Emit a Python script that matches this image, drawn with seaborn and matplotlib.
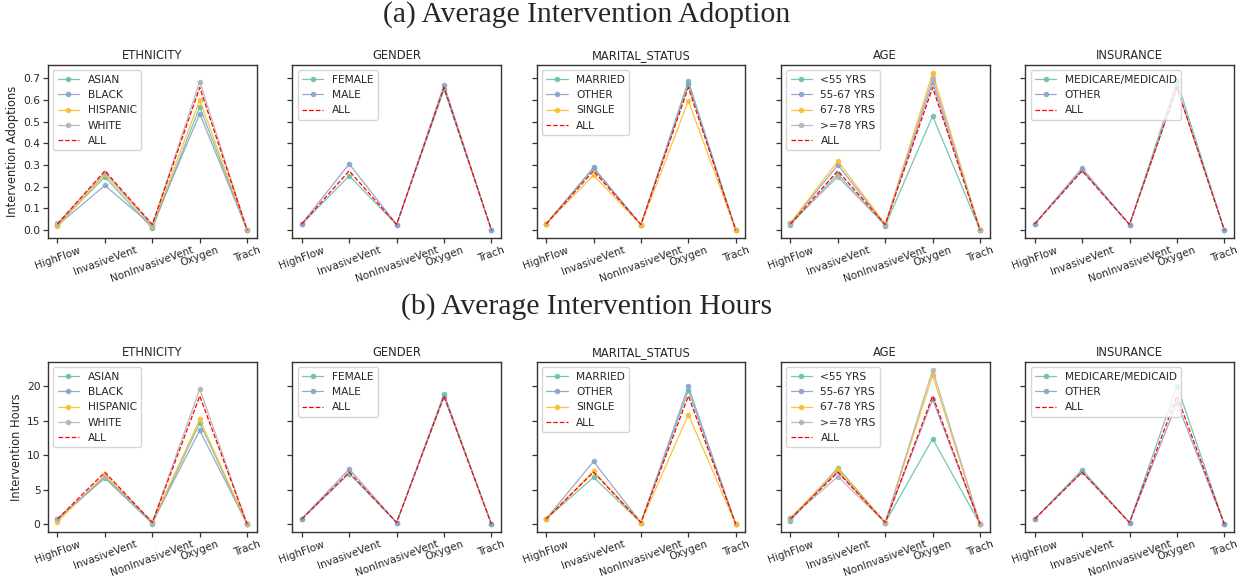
import matplotlib
matplotlib.use("Agg")
import matplotlib.pyplot as plt
import seaborn as sns

interventions = ["HighFlow", "InvasiveVent", "NonInvasiveVent", "Oxygen", "Trach"]
panel_names = ["ETHNICITY", "GENDER", "MARITAL_STATUS", "AGE", "INSURANCE"]

# (a) average intervention adoption
adopt_all = [0.028, 0.273, 0.026, 0.657, 0.0]
adopt_ethnicity = {
    "ASIAN": [0.025, 0.245, 0.008, 0.567, 0.0],
    "BLACK": [0.022, 0.206, 0.020, 0.536, 0.0],
    "HISPANIC": [0.017, 0.258, 0.020, 0.598, 0.0],
    "WHITE": [0.031, 0.265, 0.024, 0.684, 0.0],
}
adopt_gender = {
    "FEMALE": [0.028, 0.250, 0.025, 0.648, 0.0],
    "MALE": [0.029, 0.305, 0.026, 0.668, 0.0],
}
adopt_marital = {
    "MARRIED": [0.029, 0.284, 0.025, 0.688, 0.0],
    "OTHER": [0.029, 0.289, 0.025, 0.672, 0.0],
    "SINGLE": [0.029, 0.253, 0.024, 0.595, 0.0],
}
adopt_age = {
    "<55 YRS": [0.024, 0.258, 0.020, 0.525, 0.0],
    "55-67 YRS": [0.031, 0.300, 0.025, 0.680, 0.0],
    "67-78 YRS": [0.033, 0.318, 0.027, 0.724, 0.0],
    ">=78 YRS": [0.031, 0.245, 0.024, 0.700, 0.0],
}
adopt_insurance = {
    "MEDICARE/MEDICAID": [0.029, 0.277, 0.025, 0.688, 0.0],
    "OTHER": [0.029, 0.286, 0.025, 0.655, 0.0],
}

# (b) average intervention hours
hours_all = [0.75, 7.55, 0.25, 18.6, 0.0]
hours_ethnicity = {
    "ASIAN": [0.70, 6.7, 0.10, 14.7, 0.0],
    "BLACK": [0.80, 6.8, 0.30, 13.6, 0.0],
    "HISPANIC": [0.35, 7.2, 0.30, 15.2, 0.0],
    "WHITE": [0.75, 6.9, 0.30, 19.6, 0.0],
}
hours_gender = {
    "FEMALE": [0.77, 7.35, 0.25, 18.9, 0.0],
    "MALE": [0.80, 8.0, 0.25, 18.5, 0.0],
}
hours_marital = {
    "MARRIED": [0.77, 6.8, 0.25, 19.4, 0.0],
    "OTHER": [0.77, 9.1, 0.25, 20.0, 0.0],
    "SINGLE": [0.77, 7.7, 0.25, 15.9, 0.0],
}
hours_age = {
    "<55 YRS": [0.50, 8.2, 0.25, 12.4, 0.0],
    "55-67 YRS": [0.90, 7.7, 0.25, 18.1, 0.0],
    "67-78 YRS": [0.90, 8.0, 0.25, 21.6, 0.0],
    ">=78 YRS": [0.90, 6.9, 0.25, 22.4, 0.0],
}
hours_insurance = {
    "MEDICARE/MEDICAID": [0.77, 7.9, 0.25, 20.1, 0.0],
    "OTHER": [0.77, 7.6, 0.25, 17.6, 0.0],
}

colors = ["#66c2a5", "#8da0cb", "#f8bf2a", "#b3b3b3"]

sns.set_style("ticks")
plt.rcParams["font.family"] = ["DejaVu Sans"]
plt.rcParams["font.size"] = 7.6
plt.rcParams["axes.edgecolor"] = "#333333"
plt.rcParams["axes.linewidth"] = 1.0

fig = plt.figure(figsize=(12.42, 5.77), dpi=100)

rows = [
    ([adopt_ethnicity, adopt_gender, adopt_marital, adopt_age, adopt_insurance],
     adopt_all, "Intervention Adoptions", 0.5875, 0.2998),
    ([hours_ethnicity, hours_gender, hours_marital, hours_age, hours_insurance],
     hours_all, "Intervention Hours", 0.078, 0.2946),
]

for panels, all_vals, ylab, bottom, height in rows:
    first_ax = None
    for i, (name, groups) in enumerate(zip(panel_names, panels)):
        left = (48 + i * 244.3) / 1242
        if first_ax is None:
            ax = fig.add_axes([left, bottom, 0.168, height])
            first_ax = ax
        else:
            ax = fig.add_axes([left, bottom, 0.168, height], sharey=first_ax)

        for (label, vals), c in zip(groups.items(), colors):
            sns.lineplot(x=interventions, y=vals, color=c, marker="o",
                         markersize=4, markeredgewidth=0, linewidth=0.9,
                         alpha=0.9, label=label, ax=ax)
        sns.lineplot(x=interventions, y=all_vals, color="red", linestyle="--",
                     linewidth=0.9, label="ALL", ax=ax)

        ax.set_title(name, fontsize=8.3, pad=4)
        ax.legend(loc="upper left", fontsize=7.7)
        ax.tick_params(axis="both", length=3.5, width=0.9, color="#333333")
        ax.tick_params(axis="x", labelrotation=20, labelsize=7.5, pad=1.5)
        ax.tick_params(axis="y", labelsize=7.7, pad=2)
        ax.set_xlabel("")
        if i == 0:
            ax.set_ylabel(ylab, fontsize=8.3, labelpad=3)
        else:
            ax.set_ylabel("")
            ax.tick_params(axis="y", labelleft=False)

fig.text(587 / 1242, 1 - 15 / 577, "(a) Average Intervention Adoption",
         family="Liberation Serif", fontsize=21.3, ha="center", va="center")
fig.text(587 / 1242, 1 - 307 / 577, "(b) Average Intervention Hours",
         family="Liberation Serif", fontsize=21.3, ha="center", va="center")

fig.savefig("out.png", dpi=100)
